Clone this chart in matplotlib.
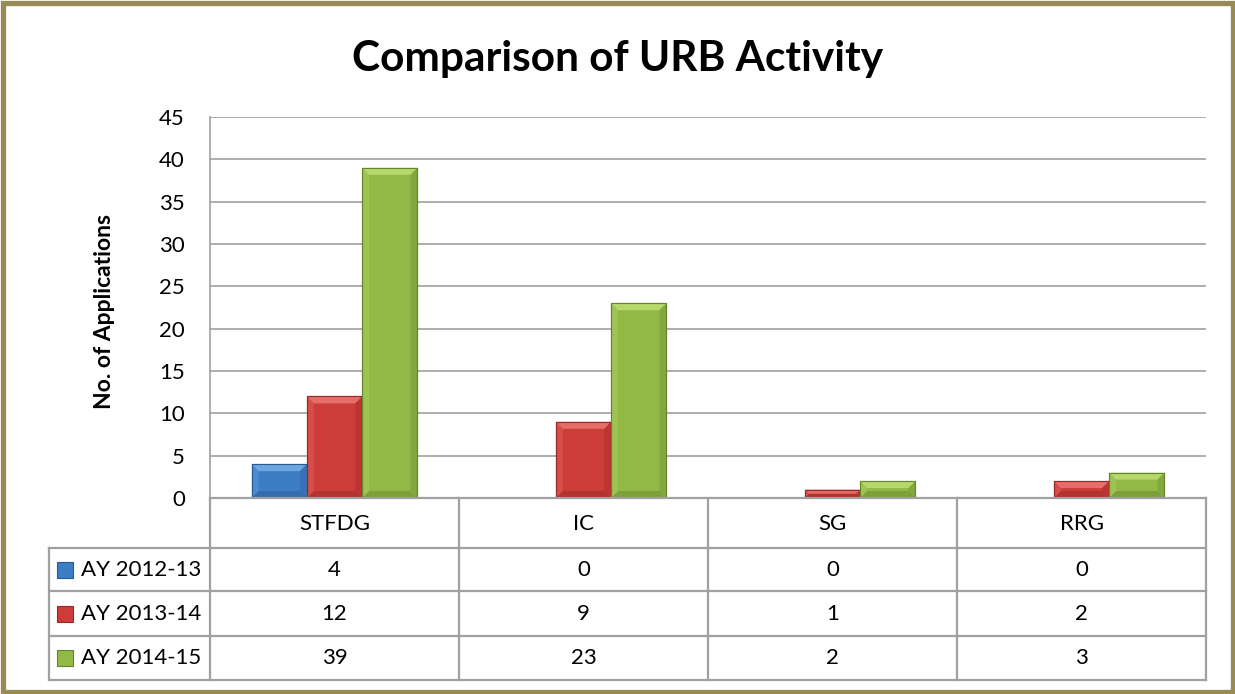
import matplotlib
matplotlib.use("Agg")
import matplotlib.pyplot as plt
from matplotlib.patches import Polygon, Rectangle
import numpy as np

plt.rcParams['font.family'] = ['Lato', 'DejaVu Sans']

# data
categories = ["STFDG", "IC", "SG", "RRG"]
series_names = ["AY 2012-13", "AY 2013-14", "AY 2014-15"]
ay_2012_13 = [4, 0, 0, 0]
ay_2013_14 = [12, 9, 1, 2]
ay_2014_15 = [39, 23, 2, 3]
series_values = [ay_2012_13, ay_2013_14, ay_2014_15]

# (face, light, dark)
colors = [("#3C7DC4", "#79AEE6", "#2A5A94"),
          ("#CC3D3A", "#EC7672", "#962926"),
          ("#92B846", "#BEDF72", "#66842C")]
grid_col = "#A0A0A0"
border_col = "#978A52"
fs = 16

W, H = 1235, 694
fig = plt.figure(figsize=(W / 100, H / 100), dpi=100)

# outer olive frame
fig.patches.append(Rectangle((2.5 / W, 2.5 / H), 1 - 5 / W, 1 - 5 / H, transform=fig.transFigure,
                             fill=False, edgecolor=border_col, linewidth=3.8))

fig.text(0.5, 1 - 59 / H, "Comparison of URB Activity", ha="center", va="center",
         fontsize=30.5, fontweight="bold")

ax = fig.add_axes([210 / W, 196 / H, 996 / W, 381 / H])
ax.set_xlim(0, len(categories))
ax.set_ylim(0, 45)
ax.set_yticks(np.arange(0, 46, 5))
ax.set_xticks([])
ax.yaxis.grid(True, color=grid_col, linewidth=1.2)
ax.set_axisbelow(True)
for s in ["top", "right", "bottom"]:
    ax.spines[s].set_visible(False)
ax.spines["left"].set_color(grid_col)
ax.spines["left"].set_linewidth(1.2)
ax.tick_params(axis="y", length=0, labelsize=fs, pad=18)
ax.set_ylabel("No. of Applications", fontsize=16.5, fontweight="bold")
ax.yaxis.set_label_coords(-0.095, 0.49)

bar_w = 0.222
x = np.arange(len(categories)) + 0.5
px_x = 996 / len(categories)
px_y = 381 / 45
bev = 7.0

for i, vals in enumerate(series_values):
    face, light, dark = colors[i]
    pos = x + (i - 1) * bar_w
    bars = ax.bar(pos, vals, width=bar_w, color=face, edgecolor=dark, linewidth=0.8, zorder=3)
    for b in bars:
        x0, w, h = b.get_x(), b.get_width(), b.get_height()
        if h <= 0:
            continue
        hp = h * px_y
        bp = min(bev, hp / 2)
        dx, dy = bp / px_x, bp / px_y
        top = [(x0, h), (x0 + w, h), (x0 + w - dx, h - dy), (x0 + dx, h - dy)]
        bot = [(x0, 0), (x0 + w, 0), (x0 + w - dx, dy), (x0 + dx, dy)]
        left = [(x0, 0), (x0, h), (x0 + dx, h - dy), (x0 + dx, dy)]
        right = [(x0 + w, 0), (x0 + w, h), (x0 + w - dx, h - dy), (x0 + w - dx, dy)]
        ax.add_patch(Polygon(top, closed=True, facecolor=light, edgecolor="none", zorder=4, alpha=0.85))
        ax.add_patch(Polygon(bot, closed=True, facecolor=dark, edgecolor="none", zorder=4, alpha=0.45))
        ax.add_patch(Polygon(left, closed=True, facecolor=light, edgecolor="none", zorder=4, alpha=0.3))
        ax.add_patch(Polygon(right, closed=True, facecolor=dark, edgecolor="none", zorder=4, alpha=0.3))
        ax.add_patch(Rectangle((x0, 0), w, h, fill=False, edgecolor=dark, linewidth=0.8, zorder=5))

# data table under the chart
left_w = 161 / px_x
row_h = [50, 43, 45, 44]  # header, then one row per series (pixels)
tot = sum(row_h)
tax = fig.add_axes([49 / W, (H - 498 - tot) / H, (1206 - 49) / W, tot / H])
tax.set_xlim(-left_w, len(categories))
tax.set_ylim(tot, 0)
tax.axis("off")
lc = dict(color=grid_col, linewidth=1.6, clip_on=False)
edges = np.cumsum([0] + row_h)
# horizontal lines
tax.plot([0, len(categories)], [0, 0], **lc)
for e in edges[1:]:
    tax.plot([-left_w, len(categories)], [e, e], **lc)
# vertical lines
for k in range(len(categories) + 1):
    tax.plot([k, k], [0, tot], **lc)
tax.plot([-left_w, -left_w], [edges[1], tot], **lc)

for j, c in enumerate(categories):
    tax.text(j + 0.5, row_h[0] / 2 + 1, c, ha="center", va="center", fontsize=fs)
for i, (name, vals) in enumerate(zip(series_names, series_values)):
    yc = (edges[i + 1] + edges[i + 2]) / 2
    face, light, dark = colors[i]
    tax.plot(-left_w + 0.065, yc, marker="s", markersize=11, markerfacecolor=face,
             markeredgecolor=dark, markeredgewidth=0.8, clip_on=False)
    tax.text(-left_w + 0.128, yc, name, ha="left", va="center", fontsize=fs)
    for j, v in enumerate(vals):
        tax.text(j + 0.5, yc, str(v), ha="center", va="center", fontsize=fs)

fig.savefig("out.png", dpi=100)
